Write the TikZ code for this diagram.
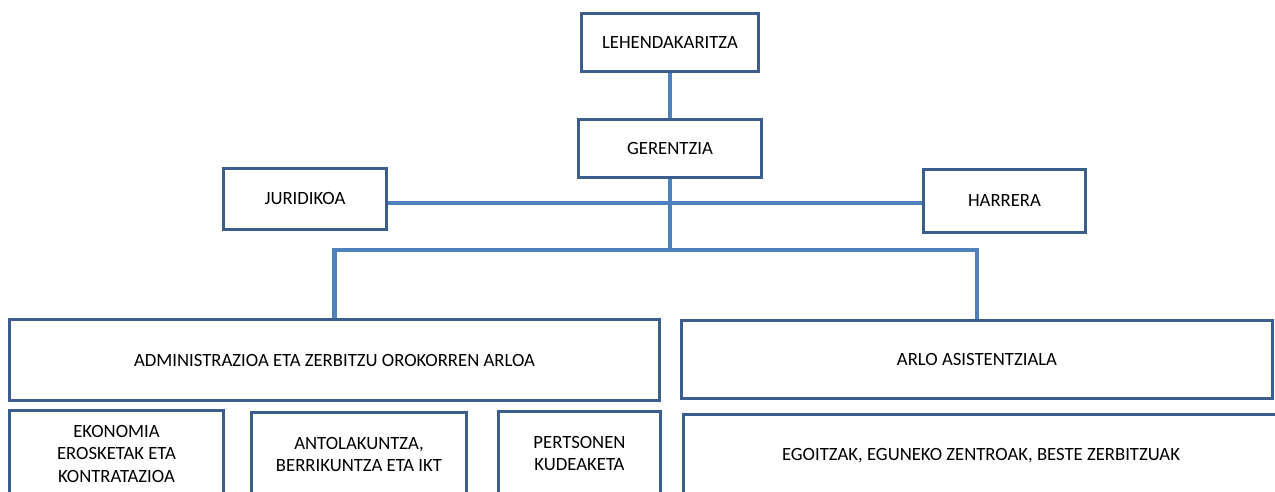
\documentclass[tikz,border=0pt]{standalone}
\usepackage{fontspec}
\setmainfont{Carlito}
\definecolor{boxblue}{HTML}{3B5E8C}
\definecolor{lineblue}{HTML}{4F81BD}
\tikzset{
  box/.style={draw=boxblue, line width=3.2pt, fill=white, rectangle, inner sep=0pt,
    align=center, font=\fontsize{18.7}{22.5}\selectfont, text=black},
  conn/.style={draw=lineblue, line width=4.2pt}
}
\begin{document}
\begin{tikzpicture}[x=1pt,y=-1pt]
\useasboundingbox (0,0) rectangle (1275,492);
\clip (0,0) rectangle (1275,492);
\fill[white] (0,0) rectangle (1275,492);
% nodes
\node[box, minimum width=177pt, minimum height=58pt] (leh) at (670,42.5) {LEHENDAKARITZA};
\node[box, minimum width=183pt, minimum height=58pt] (ger) at (670,148.5) {GERENTZIA};
\node[box, minimum width=163pt, minimum height=61pt] (jur) at (305,199) {JURIDIKOA};
\node[box, minimum width=162pt, minimum height=63pt] (har) at (1004.5,201) {HARRERA};
\node[box, minimum width=650pt, minimum height=81pt] (adm) at (334.5,360) {ADMINISTRAZIOA ETA ZERBITZU OROKORREN ARLOA};
\node[box, minimum width=591pt, minimum height=78pt] (arlo) at (977,359.5) {ARLO ASISTENTZIALA};
\node[box, minimum width=214pt, minimum height=86pt] (eko) at (116.5,453.5) {EKONOMIA\\EROSKETAK ETA\\KONTRATAZIOA};
\node[box, minimum width=215pt, minimum height=84pt] (ant) at (359,454.5) {ANTOLAKUNTZA,\\BERRIKUNTZA ETA IKT};
\node[box, minimum width=162pt, minimum height=84pt] (per) at (579.5,453.5) {PERTSONEN\\KUDEAKETA};
\node[box, minimum width=595pt, minimum height=82pt] (ego) at (981,455.5) {EGOITZAK, EGUNEKO ZENTROAK, BESTE ZERBITZUAK};
% connectors
\coordinate (b) at (670,250);
\coordinate (hl) at (670,203);
\draw[conn] (leh.south) -- (ger.north);
\draw[conn] (ger.south) -- (b);
\draw[conn] (hl -| jur.east) -- (hl -| har.west);
\draw[conn] (adm.north) |- (b) -| (arlo.north);
\end{tikzpicture}
\end{document}
